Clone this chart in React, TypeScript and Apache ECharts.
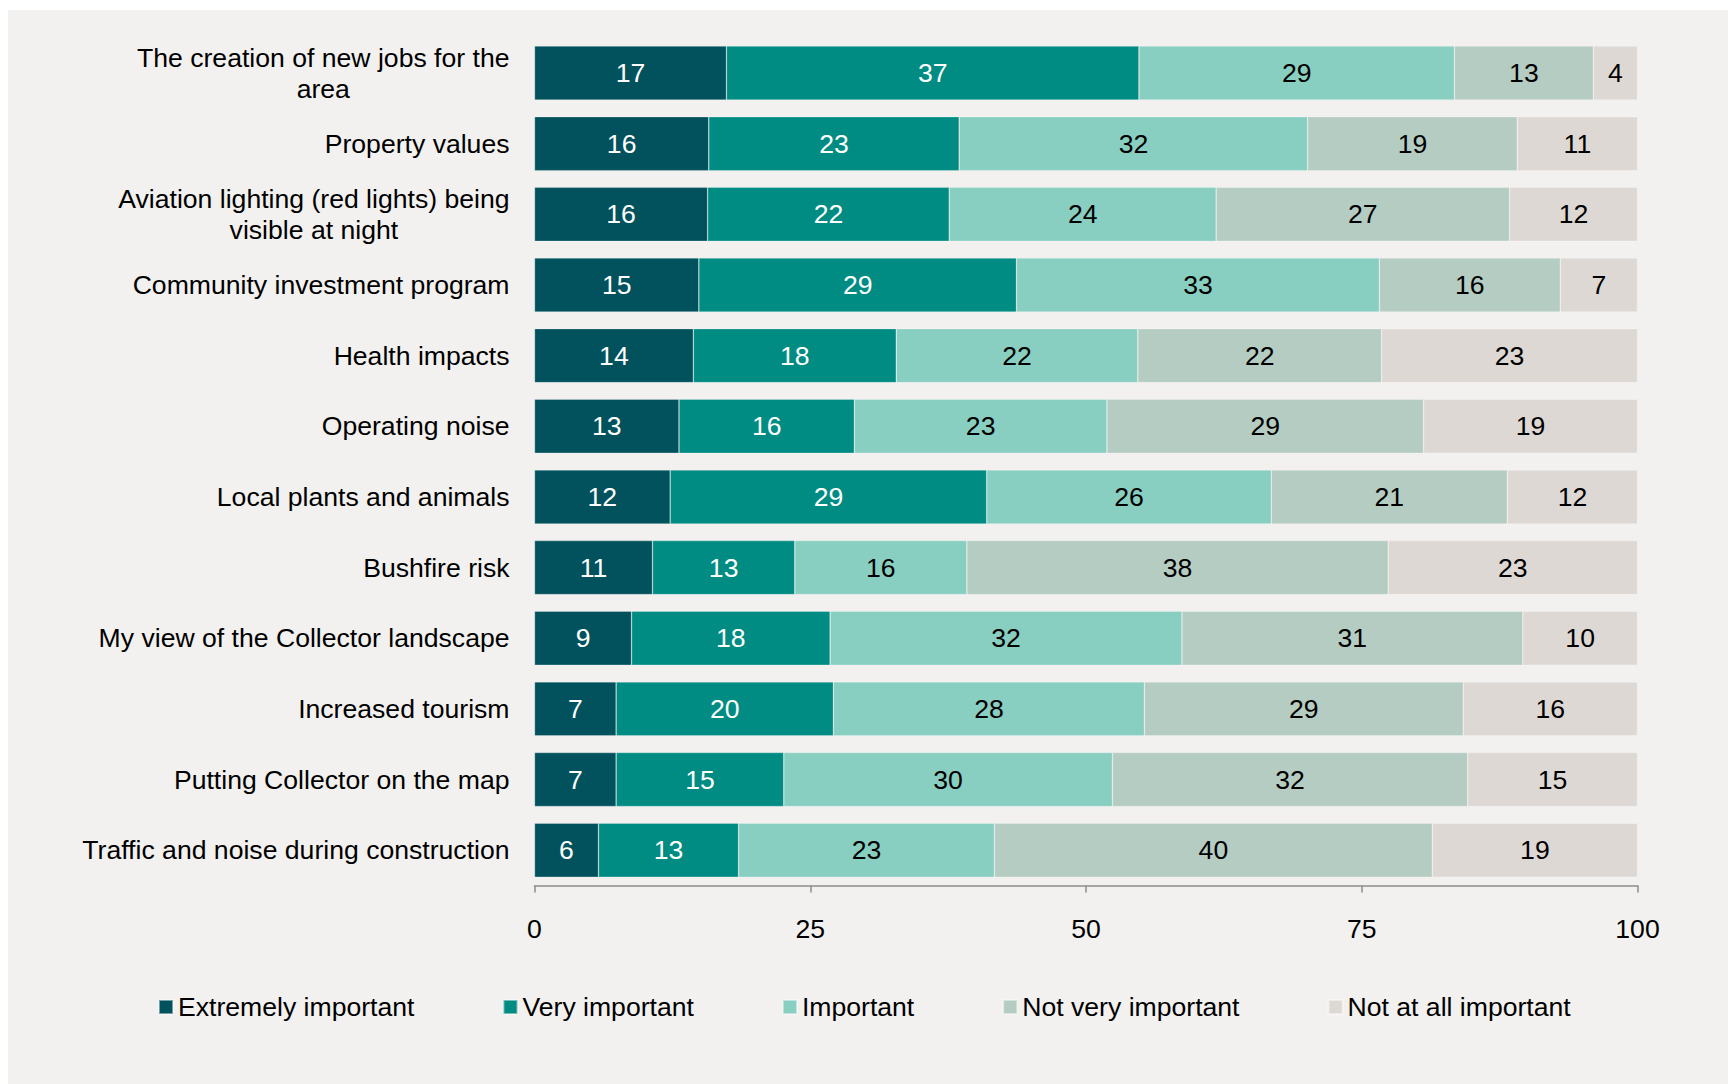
import React, { useEffect, useRef } from "react";
import * as echarts from "echarts";

const categories = [
  "The creation of new jobs for the\narea",
  "Property values",
  "Aviation lighting (red lights) being\nvisible at night",
  "Community investment program",
  "Health impacts",
  "Operating noise",
  "Local plants and animals",
  "Bushfire risk",
  "My view of the Collector landscape",
  "Increased tourism",
  "Putting Collector on the map",
  "Traffic and noise during construction",
];

const extremelyImportant = [17.4, 15.8, 15.7, 14.9, 14.4, 13.1, 12.3, 10.7, 8.8, 7.4, 7.4, 5.8];
const veryImportant = [37.4, 22.7, 21.9, 28.8, 18.4, 15.9, 28.7, 12.9, 18.0, 19.7, 15.2, 12.7];
const important = [28.6, 31.6, 24.2, 32.9, 21.9, 22.9, 25.8, 15.6, 31.9, 28.2, 29.8, 23.2];
const notVeryImportant = [12.6, 19.0, 26.6, 16.4, 22.1, 28.7, 21.4, 38.2, 30.9, 28.9, 32.2, 39.7];
const notAtAllImportant = [4.0, 10.9, 11.6, 7.0, 23.2, 19.4, 11.8, 22.6, 10.4, 15.8, 15.4, 18.6];

const seriesNames = [
  "Extremely important",
  "Very important",
  "Important",
  "Not very important",
  "Not at all important",
];
const seriesData = [extremelyImportant, veryImportant, important, notVeryImportant, notAtAllImportant];
const seriesColors = ["#01525D", "#008C82", "#88CFC1", "#B5CCC2", "#DDD8D4"];
const labelColors = ["#FFFFFF", "#FFFFFF", "#000000", "#000000", "#000000"];

const xTicks = [0, 25, 50, 75, 100];

const FONT = "'Liberation Sans', Arial, sans-serif";
const FS = 26.6;

export default function App() {
  const ref = useRef<HTMLDivElement>(null);

  useEffect(() => {
    if (!ref.current) return;
    const chart = echarts.init(ref.current, null, { renderer: "svg" });
    chart.setOption({
      animation: false,
      backgroundColor: "#F2F1EF",
      textStyle: { fontFamily: FONT },
      grid: { left: 526.5, right: 90.5, top: 27.7, bottom: 198.5, containLabel: false },
      legend: {
        left: 145,
        top: 978.5,
        itemWidth: 14,
        itemHeight: 14,
        itemGap: 88,
        icon: "rect",
        textStyle: { fontSize: FS, color: "#000", fontFamily: FONT },
        data: seriesNames,
      },
      xAxis: {
        type: "value",
        min: xTicks[0],
        max: xTicks[xTicks.length - 1],
        interval: 25,
        splitLine: { show: false },
        axisLine: { show: true, lineStyle: { color: "#8C8C8C", width: 1.5 } },
        axisTick: { show: true, length: 7, lineStyle: { color: "#8C8C8C", width: 1.5 } },
        axisLabel: { fontSize: FS, color: "#000", margin: 30, fontFamily: FONT },
      },
      yAxis: {
        type: "category",
        inverse: true,
        data: categories,
        axisLine: { show: false },
        axisTick: { show: false },
        axisLabel: {
          margin: 25,
          fontFamily: FONT,
          formatter: (v: string) =>
            v
              .split("\n")
              .map((l) => `{c|${l}}`)
              .join("\n"),
          rich: {
            c: { align: "center", fontSize: FS, lineHeight: 31, color: "#000", fontFamily: FONT },
          },
        },
      },
      series: seriesNames.map((name, i) => ({
        name,
        type: "bar",
        stack: "total",
        barWidth: "76.5%",
        data: seriesData[i],
        itemStyle: {
          color: seriesColors[i],
          borderColor: "rgba(255,255,255,0.45)",
          borderWidth: 0.6,
        },
        label: {
          show: true,
          position: "inside",
          fontSize: FS,
          color: labelColors[i],
          fontFamily: FONT,
          formatter: (p: any) => String(Math.round(p.value)),
        },
      })),
    });
    return () => chart.dispose();
  }, []);

  return (
    <div
      ref={ref}
      style={{ position: "fixed", left: 8, top: 10, width: 1720, height: 1074 }}
    />
  );
}
